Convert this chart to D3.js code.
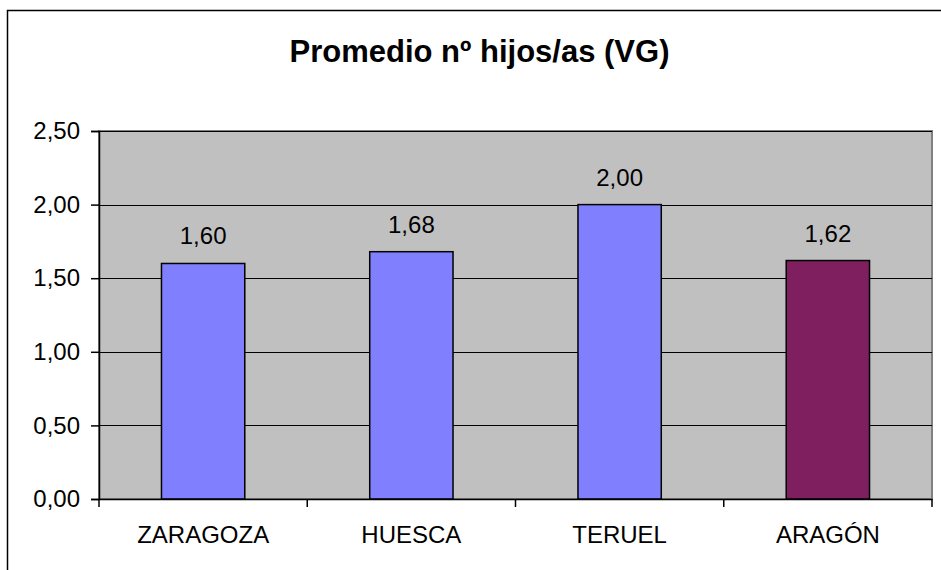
<!DOCTYPE html>
<html>
<head>
<meta charset="utf-8">
<script src="https://cdn.jsdelivr.net/npm/d3@7"></script>
<style>
  body { margin: 0; background: #fff; }
  svg { display: block; }
  text { font-family: "Liberation Sans", Arial, sans-serif; fill: #000; }
</style>
</head>
<body>
<div id="chart"></div>
<script>
// data
const categories = ["ZARAGOZA", "HUESCA", "TERUEL", "ARAGÓN"]
const values = [1.60, 1.68, 2.00, 1.62]
const barColors = ["#8080FF", "#8080FF", "#8080FF", "#7F1F5F"]
const yTicks = [0, 0.5, 1, 1.5, 2, 2.5]
const title = "Promedio nº hijos/as (VG)"

const W = 941, H = 570
const plot = {left: 99, right: 932, top: 131, bottom: 499}

const es = d3.formatLocale({decimal: ",", thousands: ".", grouping: [3], currency: ["", " €"]})
const fmt = es.format(".2f")

const svg = d3.select("#chart").append("svg")
    .attr("width", W)
    .attr("height", H)

// outer chart frame (cut off on the right and bottom)
svg.append("rect")
    .attr("x", 7.5).attr("y", 10.5)
    .attr("width", 960).attr("height", 600)
    .attr("fill", "none")
    .attr("stroke", "#000")
    .attr("stroke-width", 1.5)

svg.append("text")
    .attr("x", 479.5).attr("y", 62)
    .attr("text-anchor", "middle")
    .style("font-size", "31px")
    .style("font-weight", "bold")
    .text(title)

const x = d3.scaleBand()
    .domain(categories)
    .range([plot.left, plot.right])
    .paddingInner(0.6)
    .paddingOuter(0.3)

const y = d3.scaleLinear()
    .domain([0, 2.5])
    .range([plot.bottom, plot.top])

// plot area
svg.append("rect")
    .attr("x", plot.left).attr("y", plot.top)
    .attr("width", plot.right - plot.left)
    .attr("height", plot.bottom - plot.top)
    .attr("fill", "#C0C0C0")
    .attr("stroke", "#808080")
    .attr("stroke-width", 2)

// gridlines
svg.append("g").selectAll("line")
    .data(yTicks.filter(d => d > 0))
    .enter().append("line")
    .attr("x1", plot.left).attr("x2", plot.right)
    .attr("y1", d => Math.round(y(d)) + 0.5)
    .attr("y2", d => Math.round(y(d)) + 0.5)
    .attr("stroke", "#000")
    .attr("stroke-width", 1)

// bars
svg.append("g").selectAll("rect")
    .data(values)
    .enter().append("rect")
    .attr("x", (d, i) => x(categories[i]))
    .attr("y", d => y(d))
    .attr("width", x.bandwidth())
    .attr("height", d => y(0) - y(d))
    .attr("fill", (d, i) => barColors[i])
    .attr("stroke", "#000")
    .attr("stroke-width", 1.5)

// value labels
svg.append("g").selectAll("text")
    .data(values)
    .enter().append("text")
    .attr("x", (d, i) => x(categories[i]) + x.bandwidth() / 2)
    .attr("y", d => y(d) - 19)
    .attr("text-anchor", "middle")
    .style("font-size", "24px")
    .text(d => fmt(d))

// y axis
const yAxis = svg.append("g")
    .attr("transform", `translate(${plot.left},0)`)
    .call(d3.axisLeft(y).tickValues(yTicks).tickFormat(fmt).tickSize(8).tickPadding(11))
yAxis.select(".domain").attr("stroke", "#000").attr("stroke-width", 1.5)
yAxis.selectAll("line").attr("stroke", "#000").attr("stroke-width", 1.5)
yAxis.selectAll("text").style("font-size", "24px").attr("fill", "#000")

// x axis, labels at band centres
const xAxis = svg.append("g")
    .attr("transform", `translate(0,${plot.bottom})`)
    .call(d3.axisBottom(x).tickSize(0).tickPadding(27))
xAxis.select(".domain").attr("stroke", "#000").attr("stroke-width", 1.5)
xAxis.selectAll("text").style("font-size", "24px").attr("fill", "#000")

// x tick marks at band boundaries
const step = x.step()
const edges = categories.map(c => x(c) - step * x.paddingInner() / 2)
edges.push(plot.right)
svg.append("g").selectAll("line")
    .data(edges)
    .enter().append("line")
    .attr("x1", d => d).attr("x2", d => d)
    .attr("y1", plot.bottom).attr("y2", plot.bottom + 8)
    .attr("stroke", "#000")
    .attr("stroke-width", 1.5)
</script>
</body>
</html>
